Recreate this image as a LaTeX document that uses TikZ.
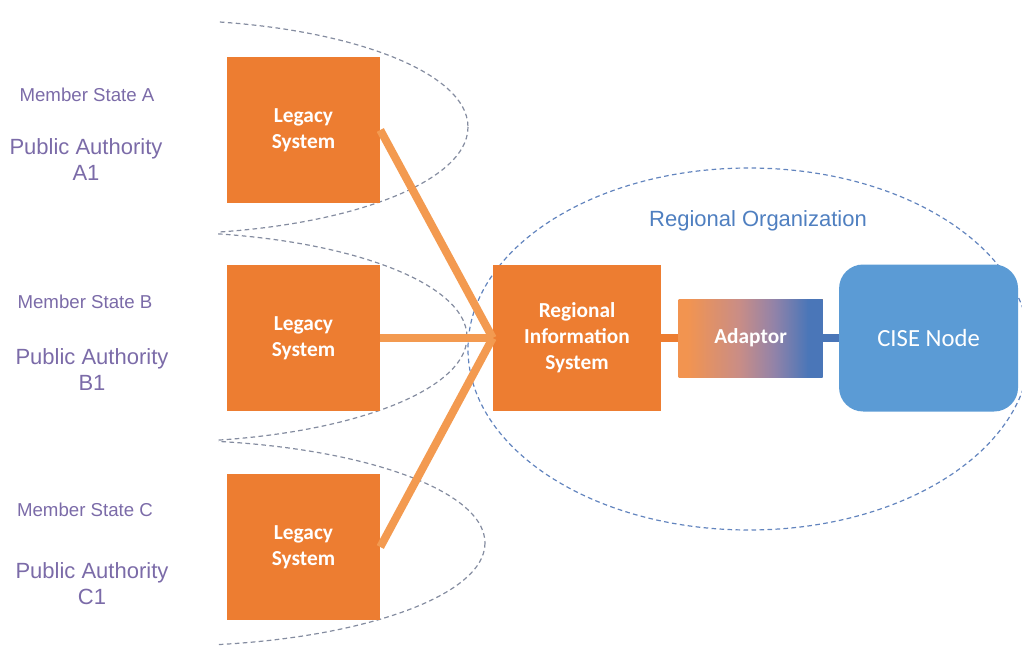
\documentclass[tikz,border=0pt]{standalone}
\usepackage{fontspec}
\setmainfont{Liberation Sans}
\newfontfamily\boxfont{Carlito}
\usetikzlibrary{positioning}
\definecolor{boxorange}{HTML}{ED7D31}
\definecolor{lineorange}{HTML}{F39A50}
\definecolor{cisblue}{HTML}{5B9BD5}
\definecolor{adpblue}{HTML}{4A76B8}
\definecolor{adporange}{HTML}{F29450}
\definecolor{adppink}{HTML}{C98D86}
\definecolor{adpviolet}{HTML}{9383A8}
\definecolor{msviolet}{HTML}{7B6BA8}
\definecolor{orgblue}{HTML}{4F7FC0}
\definecolor{grpgray}{HTML}{848CA0}
\definecolor{grpblue}{HTML}{6284BE}
\pgfdeclarehorizontalshading{adpshade}{100bp}{color(0bp)=(adporange); color(28bp)=(adporange);
  color(46bp)=(adppink); color(58bp)=(adpviolet); color(70bp)=(adpblue); color(100bp)=(adpblue)}
\tikzset{
  sysbox/.style={fill=boxorange,text=white,align=center,inner sep=0pt,
    font=\boxfont\bfseries\fontsize{16}{19.5}\selectfont},
  legacy/.style={sysbox,minimum width=114.75pt,minimum height=109.5pt},
  statelbl/.style={text=msviolet,font=\fontsize{14}{17}\selectfont},
  authlbl/.style={text=msviolet,align=center,font=\fontsize{16.5}{19.5}\selectfont},
  grpline/.style={dash pattern=on 3.5pt off 2.5pt,line width=0.9pt},
  link/.style={lineorange,line width=6pt}
}
\begin{document}
\begin{tikzpicture}[x=0.75pt,y=-0.75pt]
\useasboundingbox (0,0) rectangle (1022,646);

% groups
\begin{scope}
\clip (218,0) rectangle (1022,646);
\draw[grpline,grpgray] (160,127) ellipse [x radius=308,y radius=107];
\draw[grpline,grpgray] (160,337) ellipse [x radius=307,y radius=105];
\draw[grpline,grpgray] (165,543) ellipse [x radius=320,y radius=103];
\end{scope}
\draw[grpline,grpblue] (749,349) ellipse [x radius=281,y radius=181];

% member states
\node[statelbl] (msa) at (87,95) {Member State A};
\node[authlbl] (paa) at (86,160) {Public Authority\\A1};
\node[statelbl] (msb) at (85,302) {Member State B};
\node[authlbl] (pab) at (92,370) {Public Authority\\B1};
\node[statelbl] (msc) at (85,510) {Member State C};
\node[authlbl] (pac) at (92,584) {Public Authority\\C1};

\node[legacy] (leg1) at (303.5,130) {Legacy\\System};
\node[legacy] (leg2) at (303.5,338) {Legacy\\System};
\node[legacy] (leg3) at (303.5,547) {Legacy\\System};

% regional organization
\node[text=orgblue,font=\fontsize{16.5}{19.5}\selectfont] (org) at (758,221) {Regional Organization};
\node[sysbox,minimum width=126pt,minimum height=109.5pt] (ris) at (577,338) {Regional\\Information\\System};
\node[sysbox,shading=adpshade,minimum width=108pt,minimum height=58.5pt,
  right=12.75pt of ris] (adp) {Adaptor};
\node[fill=cisblue,rounded corners=18pt,text=white,minimum width=134.25pt,minimum height=110.25pt,
  font=\boxfont\fontsize{18.5}{22}\selectfont,right=12pt of adp] (cise) {CISE Node};

\draw[link] (leg1.east) -- (ris.west);
\draw[link] (leg2.east) -- (ris.west);
\draw[link] (leg3.east) -- (ris.west);
\draw[boxorange,line width=6.5pt] (ris.east) -- (adp.west);
\draw[adpblue,line width=6.5pt] (adp.east) -- (cise.west);

\end{tikzpicture}
\end{document}
